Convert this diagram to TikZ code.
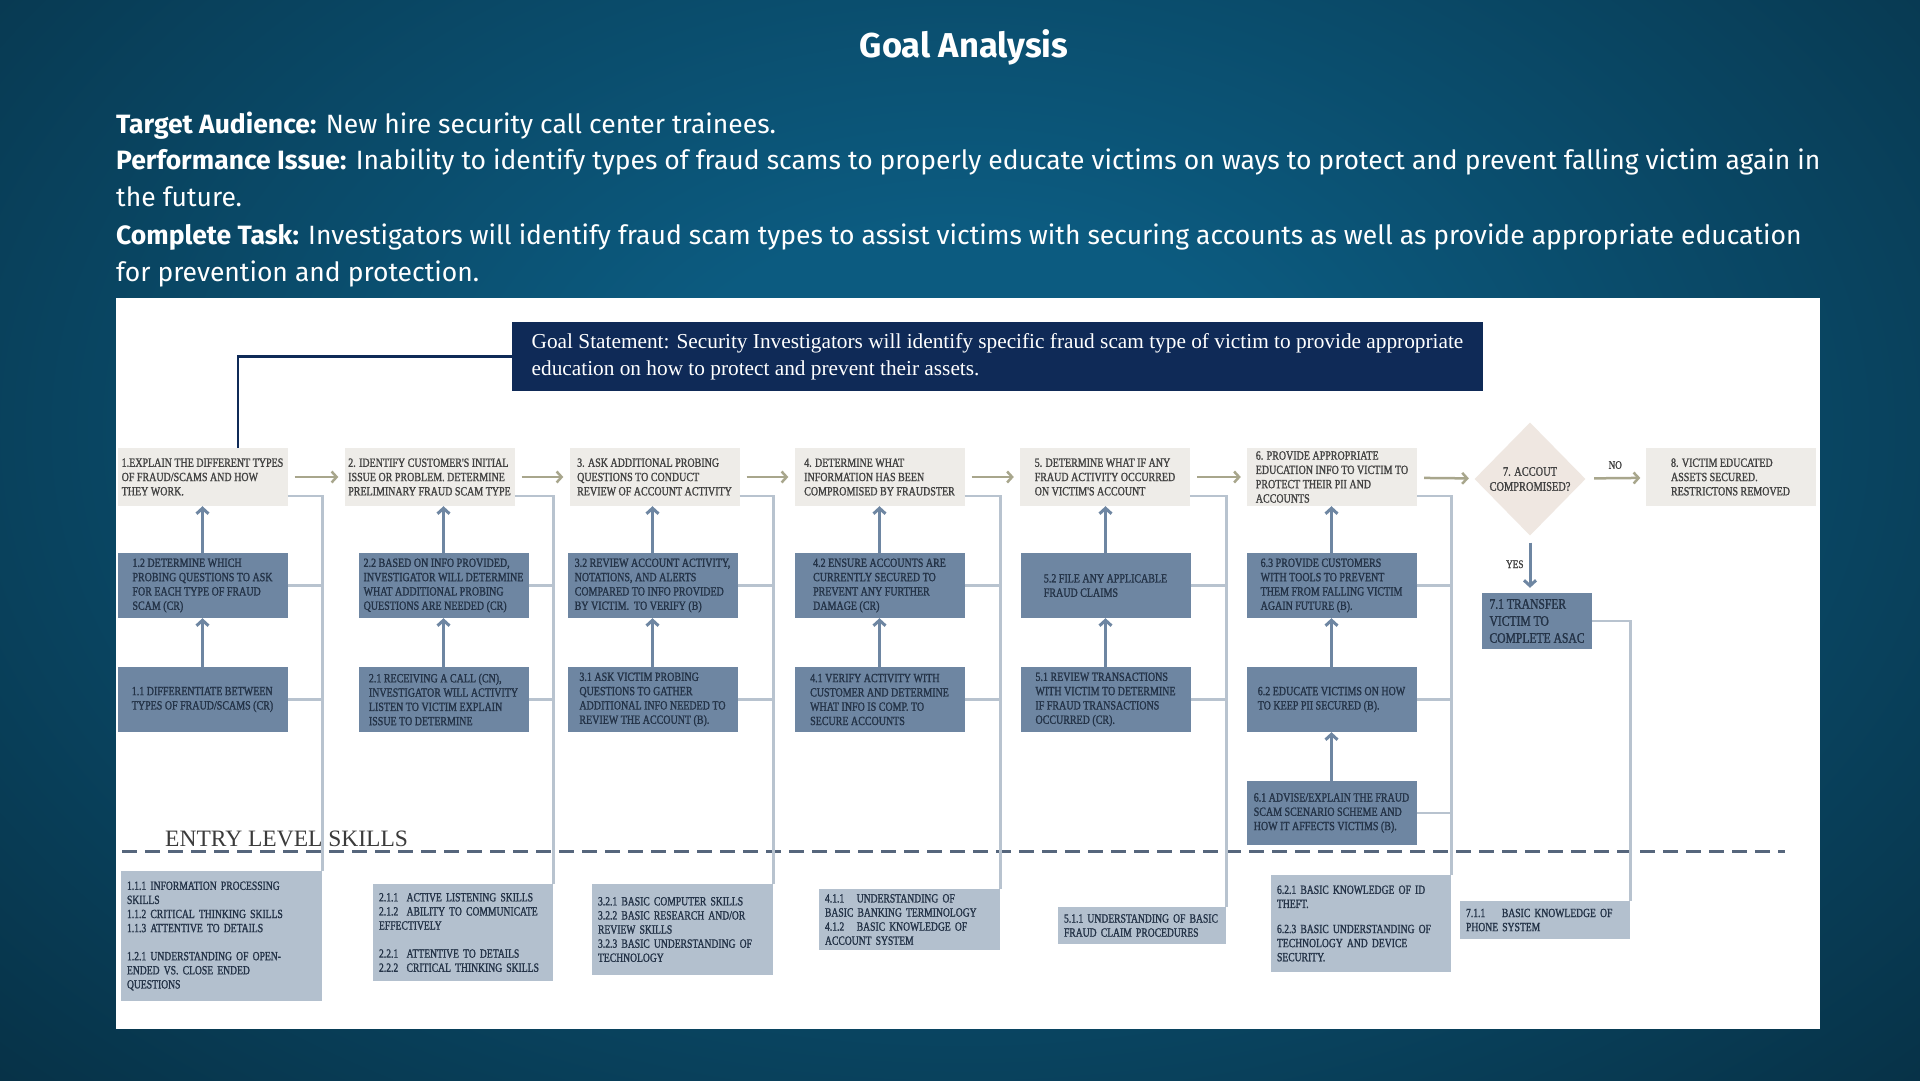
\documentclass[tikz,border=0pt]{standalone}
\usepackage{fontspec}
\setmainfont{Fira Sans}
\newfontfamily\boxfont[FakeStretch=0.8,FakeBold=1.3]{Liberation Serif}
\newfontfamily\skillfont[FakeStretch=0.77,FakeBold=1.3]{Liberation Serif}
\newfontfamily\goalfont{Liberation Serif}
\usetikzlibrary{arrows.meta,shapes.geometric,positioning}
\hyphenpenalty=10000

\definecolor{bgin}{HTML}{0C5B80}
\definecolor{bgout}{HTML}{041C29}
\definecolor{goalblue}{HTML}{0F2A57}
\definecolor{stepfill}{HTML}{EEECE8}
\definecolor{taskfill}{HTML}{6E86A2}
\definecolor{skillfill}{HTML}{B3C0CE}
\definecolor{spinegray}{HTML}{B8C3CF}
\definecolor{flowtan}{HTML}{A8A68C}
\definecolor{inktext}{HTML}{424242}
\definecolor{tasktext}{HTML}{243347}
\definecolor{diamondfill}{HTML}{EFE7E1}
\definecolor{dashgray}{HTML}{56667C}

\pgfdeclareradialshading{backdrop}{\pgfpoint{0bp}{0bp}}{color(0bp)=(bgin); color(8bp)=(bgin); color(50bp)=(bgout)}

\tikzset{
  boxtext/.style={align=left, inner sep=0pt, font=\boxfont\fontsize{12.5}{14.3}\selectfont},
  stepbox/.style={boxtext, fill=stepfill, text=inktext, minimum width=170pt, minimum height=58pt},
  taskbox/.style={boxtext, fill=taskfill, text=tasktext, minimum width=170pt, minimum height=65pt},
  skillbox/.style 2 args={boxtext, fill=skillfill, text=tasktext, inner xsep=6pt, text width=#1,
    minimum height=#2, font=\skillfont\fontsize{12.5}{14.1}\selectfont},
  decision/.style={diamond, aspect=1, fill=diamondfill, text=inktext, inner sep=0pt,
    minimum width=111pt, minimum height=113pt, align=center, font=\boxfont\fontsize{13}{15}\selectfont},
  introline/.style={anchor=base west, inner sep=0pt, text=white, font=\fontsize{26.5}{32}\selectfont},
  flowarrow/.style={draw=flowtan, line width=2.5pt, -{Straight Barb[length=5pt,width=11pt]},
    shorten <=7pt, shorten >=6pt},
  uparrow/.style={draw=taskfill, line width=3pt, -{Straight Barb[length=5.5pt,width=12pt]}},
  spine/.style={draw=spinegray, line width=2.8pt},
  goalline/.style={draw=goalblue, line width=2.5pt},
  divider/.style={draw=dashgray, line width=3pt, dash pattern=on 15pt off 8pt},
  smalllabel/.style={text=inktext, font=\boxfont\fontsize{11.5}{13}\selectfont, inner sep=0pt}
}

\begin{document}
\begin{tikzpicture}[x=1pt,y=-1pt]
\useasboundingbox (0,0) rectangle (1920,1080);
\begin{scope}
\clip (0,0) rectangle (1920,1080);
\shade[shading=backdrop] (0,-220) rectangle (1920,1080);
\end{scope}

% heading
\node[text=white, font=\bfseries\fontsize{34.5}{40}\selectfont] (title) at (964,47.5) {Goal Analysis};
\node[introline] (aud) at (116,133) {\textbf{Target Audience:} New hire security call center trainees.};
\node[introline] (iss) at (116,169.5) {\textbf{Performance Issue:} Inability to identify types of fraud scams to properly educate victims on ways to protect and prevent falling victim again in};
\node[introline] (issb) at (116,206.5) {the future.};
\node[introline] (task) at (116,244) {\textbf{Complete Task:} Investigators will identify fraud scam types to assist victims with securing accounts as well as provide appropriate education};
\node[introline] (taskb) at (116,281) {for prevention and protection.};

% panel
\fill[white] (116,298) rectangle (1820,1029);

\node[fill=goalblue, text=white, minimum width=971pt, minimum height=69pt, inner sep=0pt, align=left,
  font=\goalfont\fontsize{21.3}{27}\selectfont] (goal) at (997.5,356.5)
  {Goal Statement: Security Investigators will identify specific fraud scam type of victim to provide appropriate\\education on how to protect and prevent their assets.};

% main steps
\node[stepbox] (s1) at (202.5,477) {1.EXPLAIN THE DIFFERENT TYPES\\OF FRAUD/SCAMS AND HOW\\THEY WORK.};
\node[stepbox] (s2) at (429.5,477) {2. IDENTIFY CUSTOMER'S INITIAL\\ISSUE OR PROBLEM. DETERMINE\\PRELIMINARY FRAUD SCAM TYPE};
\node[stepbox] (s3) at (654.5,477) {3. ASK ADDITIONAL PROBING\\QUESTIONS TO CONDUCT\\REVIEW OF ACCOUNT ACTIVITY};
\node[stepbox] (s4) at (879.5,477) {4. DETERMINE WHAT\\INFORMATION HAS BEEN\\COMPROMISED BY FRAUDSTER};
\node[stepbox] (s5) at (1105,477) {5. DETERMINE WHAT IF ANY\\FRAUD ACTIVITY OCCURRED\\ON VICTIM'S ACCOUNT};
\node[stepbox] (s6) at (1332,477) {6. PROVIDE APPROPRIATE\\EDUCATION INFO TO VICTIM TO\\PROTECT THEIR PII AND\\ACCOUNTS};
\node[decision] (s7) at (1530,479) {7. ACCOUT\\COMPROMISED?};
\node[stepbox] (s8) at (1730.5,477) {8. VICTIM EDUCATED\\ASSETS SECURED.\\RESTRICTONS REMOVED};

% sub tasks
\node[taskbox] (t12) at (202.5,585.5) {1.2 DETERMINE WHICH\\PROBING QUESTIONS TO ASK\\FOR EACH TYPE OF FRAUD\\SCAM (CR)};
\node[taskbox] (t11) at (202.5,699.5) {1.1 DIFFERENTIATE BETWEEN\\TYPES OF FRAUD/SCAMS (CR)};
\node[taskbox] (t22) at (443.5,585.5) {2.2 BASED ON INFO PROVIDED,\\INVESTIGATOR WILL DETERMINE\\WHAT ADDITIONAL PROBING\\QUESTIONS ARE NEEDED (CR)};
\node[taskbox] (t21) at (443.5,699.5) {2.1 RECEIVING A CALL (CN),\\INVESTIGATOR WILL ACTIVITY\\LISTEN TO VICTIM EXPLAIN\\ISSUE TO DETERMINE};
\node[taskbox] (t32) at (652.5,585.5) {3.2 REVIEW ACCOUNT ACTIVITY,\\NOTATIONS, AND ALERTS\\COMPARED TO INFO PROVIDED\\BY VICTIM.\ \ TO VERIFY (B)};
\node[taskbox] (t31) at (652.5,699.5) {3.1 ASK VICTIM PROBING\\QUESTIONS TO GATHER\\ADDITIONAL INFO NEEDED TO\\REVIEW THE ACCOUNT (B).};
\node[taskbox] (t42) at (879.5,585.5) {4.2 ENSURE ACCOUNTS ARE\\CURRENTLY SECURED TO\\PREVENT ANY FURTHER\\DAMAGE (CR)};
\node[taskbox] (t41) at (879.5,699.5) {4.1 VERIFY ACTIVITY WITH\\CUSTOMER AND DETERMINE\\WHAT INFO IS COMP. TO\\SECURE ACCOUNTS};
\node[taskbox] (t52) at (1105.5,585.5) {5.2 FILE ANY APPLICABLE\\FRAUD CLAIMS};
\node[taskbox] (t51) at (1105.5,699.5) {5.1 REVIEW TRANSACTIONS\\WITH VICTIM TO DETERMINE\\IF FRAUD TRANSACTIONS\\OCCURRED (CR).};
\node[taskbox] (t63) at (1331.5,585.5) {6.3 PROVIDE CUSTOMERS\\WITH TOOLS TO PREVENT\\THEM FROM FALLING VICTIM\\AGAIN FUTURE (B).};
\node[taskbox] (t62) at (1331.5,699.5) {6.2 EDUCATE VICTIMS ON HOW\\TO KEEP PII SECURED (B).};
\node[taskbox, minimum height=64pt] (t61) at (1331.5,813) {6.1 ADVISE/EXPLAIN THE FRAUD\\SCAM SCENARIO SCHEME AND\\HOW IT AFFECTS VICTIMS (B).};
\node[taskbox, minimum width=110pt, minimum height=56pt, font=\boxfont\fontsize{14.5}{17}\selectfont] (t71) at (1537,621) {7.1 TRANSFER\\VICTIM TO\\COMPLETE ASAC};

% entry level skills
\draw[divider] (122,851) -- (1785,851);
\node[anchor=base west, inner sep=0pt, text=inktext!90!black, font=\goalfont\fontsize{23.5}{28}\selectfont] (entry) at (165,846) {ENTRY LEVEL SKILLS};

\node[skillbox={189pt}{130pt}] (k1) at (221.5,936) {1.1.1 INFORMATION PROCESSING\\SKILLS\\1.1.2 CRITICAL THINKING SKILLS\\1.1.3 ATTENTIVE TO DETAILS\\[14pt]1.2.1 UNDERSTANDING OF OPEN-\\ENDED VS. CLOSE ENDED\\QUESTIONS};
\node[skillbox={168pt}{97pt}] (k2) at (463,932.5) {2.1.1\ \ ACTIVE LISTENING SKILLS\\2.1.2\ \ ABILITY TO COMMUNICATE\\EFFECTIVELY\\[14pt]2.2.1\ \ ATTENTIVE TO DETAILS\\2.2.2\ \ CRITICAL THINKING SKILLS};
\node[skillbox={169pt}{91pt}] (k3) at (682.5,929.5) {3.2.1 BASIC COMPUTER SKILLS\\3.2.2 BASIC RESEARCH AND/OR\\REVIEW SKILLS\\3.2.3 BASIC UNDERSTANDING OF\\TECHNOLOGY};
\node[skillbox={169pt}{61pt}] (k4) at (909.5,919.5) {4.1.1\ \ \ UNDERSTANDING OF\\BASIC BANKING TERMINOLOGY\\4.1.2\ \ \ BASIC KNOWLEDGE OF\\ACCOUNT SYSTEM};
\node[skillbox={156pt}{37pt}] (k5) at (1142,925.5) {5.1.1 UNDERSTANDING OF BASIC\\FRAUD CLAIM PROCEDURES};
\node[skillbox={168pt}{97pt}] (k6) at (1361,923.5) {6.2.1 BASIC KNOWLEDGE OF ID\\THEFT.\\[11pt]6.2.3 BASIC UNDERSTANDING OF\\TECHNOLOGY AND DEVICE\\SECURITY.};
\node[skillbox={158pt}{38pt}] (k7) at (1545,920) {7.1.1\ \ \ \ BASIC KNOWLEDGE OF\\PHONE SYSTEM};

% spines to skills
\draw[spine] ([yshift=-19pt]s1.east) -| (k1.north east);
\draw[spine] (t12.east) -- (t12.east -| k1.east);
\draw[spine] (t11.east) -- (t11.east -| k1.east);
\draw[spine] ([yshift=-19pt]s2.east) -| (k2.north east);
\draw[spine] (t22.east) -- (t22.east -| k2.east);
\draw[spine] (t21.east) -- (t21.east -| k2.east);
\draw[spine] ([yshift=-19pt]s3.east) -| (k3.north east);
\draw[spine] (t32.east) -- (t32.east -| k3.east);
\draw[spine] (t31.east) -- (t31.east -| k3.east);
\draw[spine] ([yshift=-19pt]s4.east) -| (k4.north east);
\draw[spine] (t42.east) -- (t42.east -| k4.east);
\draw[spine] (t41.east) -- (t41.east -| k4.east);
\draw[spine] ([yshift=-19pt]s5.east) -| (k5.north east);
\draw[spine] (t52.east) -- (t52.east -| k5.east);
\draw[spine] (t51.east) -- (t51.east -| k5.east);
\draw[spine] ([yshift=-19pt]s6.east) -| (k6.north east);
\draw[spine] (t63.east) -- (t63.east -| k6.east);
\draw[spine] (t62.east) -- (t62.east -| k6.east);
\draw[spine] (t61.east) -- (t61.east -| k6.east);
\draw[spine] (t71.east) -| (k7.north east);

% goal link
\draw[goalline] (goal.west) -| ([xshift=35.5pt]s1.north);

% flow
\draw[flowarrow] (s1) -- (s2);
\draw[flowarrow] (s2) -- (s3);
\draw[flowarrow] (s3) -- (s4);
\draw[flowarrow] (s4) -- (s5);
\draw[flowarrow] (s5) -- (s6);
\draw[flowarrow] (s6) -- (s7);
\draw[flowarrow, shorten <=9pt, shorten >=5pt] (s7) -- (s8) node[midway, above=8pt, smalllabel] {NO};
\draw[uparrow, shorten <=7pt, shorten >=5pt] (s7.south) -- (s7.south |- t71.north) node[midway, left=5pt, smalllabel] {YES};

% build up
\draw[uparrow] (t11.north) -- (t11.north |- t12.south);
\draw[uparrow] (t12.north) -- (t12.north |- s1.south);
\draw[uparrow] (t21.north) -- (t21.north |- t22.south);
\draw[uparrow] (t22.north) -- (t22.north |- s2.south);
\draw[uparrow] (t31.north) -- (t31.north |- t32.south);
\draw[uparrow] (t32.north) -- (t32.north |- s3.south);
\draw[uparrow] (t41.north) -- (t41.north |- t42.south);
\draw[uparrow] (t42.north) -- (t42.north |- s4.south);
\draw[uparrow] (t51.north) -- (t51.north |- t52.south);
\draw[uparrow] (t52.north) -- (t52.north |- s5.south);
\draw[uparrow] (t61.north) -- (t61.north |- t62.south);
\draw[uparrow] (t62.north) -- (t62.north |- t63.south);
\draw[uparrow] (t63.north) -- (t63.north |- s6.south);
\end{tikzpicture}
\end{document}
